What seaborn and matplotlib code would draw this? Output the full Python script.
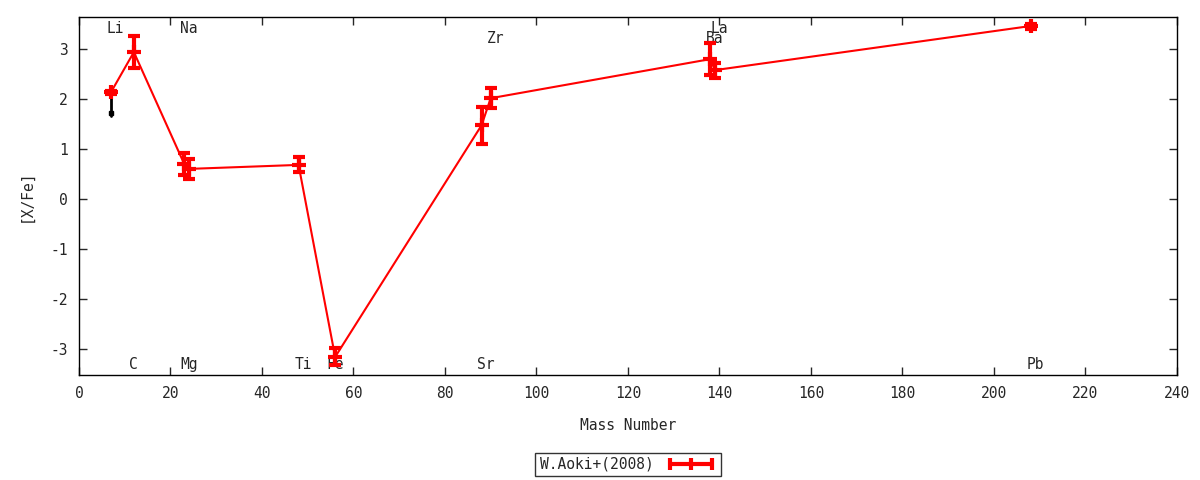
import numpy as np
import pandas as pd
import matplotlib
matplotlib.use('Agg')
import matplotlib.pyplot as plt
import seaborn as sns
from matplotlib.lines import Line2D

# abundance data (W.Aoki+ 2008)
elements = ['Li', 'C', 'Na', 'Mg', 'Ti', 'Fe', 'Sr', 'Zr', 'Ba', 'La', 'Pb']
mass = [7, 12, 23, 24, 48, 56, 88, 90, 138, 139, 208]
xfe = [2.13, 2.93, 0.70, 0.60, 0.68, -3.15, 1.47, 2.01, 2.79, 2.57, 3.45]
err = [0.03, 0.32, 0.22, 0.20, 0.15, 0.17, 0.37, 0.20, 0.32, 0.15, 0.05]

# element label positions
label_x = [8, 12, 24, 24, 49, 56, 89, 91, 139, 140, 209]
label_y = [3.4, -3.3, 3.4, -3.3, -3.3, -3.3, -3.3, 3.2, 3.2, 3.4, -3.3]

# Li upper limit (black)
li_limit = [2.13, 1.65]

df = pd.DataFrame({'mass': mass, 'xfe': xfe, 'err': err})

sns.set_style('ticks')
plt.rcParams['font.family'] = ['DejaVu Sans Mono']
plt.rcParams['font.size'] = 10.5
plt.rcParams['axes.unicode_minus'] = False

fig = plt.figure(figsize=(12, 4.8), dpi=100)
ax = fig.add_axes([0.0658, 0.2188, 0.9150, 0.7458])

ax.plot([mass[0], mass[0]], li_limit, color='black', lw=2, zorder=2)
ax.plot([mass[0]], [1.72], marker='s', color='black', ms=3, zorder=2)

sns.lineplot(data=df, x='mass', y='xfe', color='red', lw=1.5, ax=ax,
             sort=False, legend=False, zorder=3)
ax.errorbar(df['mass'], df['xfe'], yerr=df['err'], fmt='+', color='red',
            ms=10, mew=3, elinewidth=3, capsize=4, capthick=3, zorder=4)

for name, lx, ly in zip(elements, label_x, label_y):
    ax.text(lx, ly, name, ha='center', va='center', fontsize=10.5)

ax.set_xlim(0, 240)
ax.set_ylim(-3.51, 3.63)
ax.set_xticks(np.arange(0, 241, 20))
ax.set_yticks(np.arange(-3, 4, 1))
ax.tick_params(direction='in', top=True, right=True, length=6, width=1,
               labelsize=10.5, pad=8)
for s in ax.spines.values():
    s.set_linewidth(1)
    s.set_color('black')

ax.set_xlabel('Mass Number', labelpad=12)
ax.set_ylabel('[X/Fe]', labelpad=12)

handle = Line2D([0, 1], [0, 0], color='red', lw=3, marker='|', ms=8, mew=3)
leg = ax.legend([handle], ['W.Aoki+(2008)'], loc='center',
                bbox_to_anchor=(0.5, -0.25), markerfirst=False, numpoints=3,
                frameon=True, fancybox=False, edgecolor='black',
                handlelength=3.5, borderpad=0.3, fontsize=10.5)
leg.get_frame().set_linewidth(1)

plt.savefig('out.png', dpi=100)
